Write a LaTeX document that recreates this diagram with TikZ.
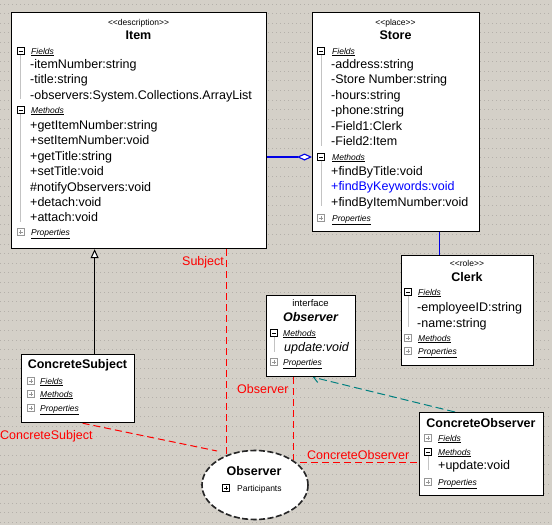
\documentclass[tikz,border=0pt]{standalone}
\usepackage{fontspec}
\setmainfont{Liberation Sans}
\usetikzlibrary{arrows.meta,shapes.geometric}
\definecolor{bgc}{RGB}{212,208,200}
\definecolor{dotc}{RGB}{180,176,170}
\definecolor{tealc}{RGB}{0,128,128}
\definecolor{treec}{RGB}{195,195,195}
\definecolor{icgray}{RGB}{150,150,150}
\definecolor{aggblue}{RGB}{0,0,230}
\pgfdeclarelayer{bg}
\pgfsetlayers{bg,main}
\begin{document}
\begin{tikzpicture}[x=1pt,y=-1pt,
  box/.style={draw=black, fill=white, line width=1.2pt, inner sep=0pt, anchor=north west},
  mem/.style={anchor=base west, inner sep=0pt, font=\fontsize{12.5}{14}\selectfont},
  hdr/.style={anchor=base west, inner sep=0pt, font=\fontsize{8.5}{10}\selectfont\itshape},
  ster/.style={anchor=base, inner sep=0pt, font=\fontsize{8.5}{10}\selectfont},
  ttl/.style={anchor=base, inner sep=0pt, font=\fontsize{12.5}{14}\selectfont\bfseries},
  redlbl/.style={anchor=base west, inner sep=0pt, text=red, font=\fontsize{12.5}{14}\selectfont},
  reddash/.style={draw=red, line width=1pt, dash pattern=on 7pt off 4pt},
  treeline/.style={draw=treec, line width=1pt},
  iconbase/.style={fill=white, minimum size=7pt, inner sep=0pt, line width=0.6pt},
  iconminus/.style={iconbase, draw=black, path picture={\draw[black, line width=0.7pt] ([xshift=1.5pt]path picture bounding box.west) -- ([xshift=-1.5pt]path picture bounding box.east);}},
  iconplus/.style={iconbase, draw=icgray, path picture={\draw[icgray, line width=0.6pt] ([xshift=1.5pt]path picture bounding box.west) -- ([xshift=-1.5pt]path picture bounding box.east) ([yshift=-1.5pt]path picture bounding box.north) -- ([yshift=1.5pt]path picture bounding box.south);}},
  iconplusk/.style={iconbase, draw=black, path picture={\draw[black, line width=0.7pt] ([xshift=1.5pt]path picture bounding box.west) -- ([xshift=-1.5pt]path picture bounding box.east) ([yshift=-1.5pt]path picture bounding box.north) -- ([yshift=1.5pt]path picture bounding box.south);}},
]
\useasboundingbox (0,0) rectangle (552,525);

% ---------- Item ----------
\node[box, minimum width=255pt, minimum height=236pt] (item) at (11,12) {};
\node[ster] (itemst) at (138.5,25) {<\kern0pt<description>\kern0pt>};
\node[ttl] (itemt) at (138.5,39) {Item};
\node[iconminus] (ific) at (20.5,51) {};
\node[hdr] (ifh) at (31,54) {\underline{Fields}};
\node[mem] (if1) at (30,68.5) {-itemNumber:string};
\node[mem] (if2) at (30,83.9) {-title:string};
\node[mem] (if3) at (30,99.3) {-observers:System.Collections.ArrayList};
\node[iconminus] (imic) at (20.5,110) {};
\node[hdr] (imh) at (31,113) {\underline{Methods}};
\node[mem] (im1) at (30,129.5) {+getItemNumber:string};
\node[mem] (im2) at (30,144.9) {+setItemNumber:void};
\node[mem] (im3) at (30,160.3) {+getTitle:string};
\node[mem] (im4) at (30,175.7) {+setTitle:void};
\node[mem] (im5) at (30,191.1) {\#notifyObservers:void};
\node[mem] (im6) at (30,206.5) {+detach:void};
\node[mem] (im7) at (30,221.9) {+attach:void};
\node[iconplus] (ipic) at (20.5,232) {};
\node[hdr] (iph) at (31,235) {\underline{Properties}};
\draw[treeline] (ific.south) -- (ific.south |- if3.base);
\draw[treeline] (imic.south) -- (imic.south |- im7.base);

% ---------- Store ----------
\node[box, minimum width=167pt, minimum height=219pt] (store) at (312,12) {};
\node[ster] (storest) at (395.5,25) {<\kern0pt<place>\kern0pt>};
\node[ttl] (storet) at (395.5,39) {Store};
\node[iconminus] (sfic) at (321,51) {};
\node[hdr] (sfh) at (332,54) {\underline{Fields}};
\node[mem] (sf1) at (331,68.5) {-address:string};
\node[mem] (sf2) at (331,83.9) {-Store Number:string};
\node[mem] (sf3) at (331,99.3) {-hours:string};
\node[mem] (sf4) at (331,114.7) {-phone:string};
\node[mem] (sf5) at (331,130.1) {-Field1:Clerk};
\node[mem] (sf6) at (331,145.5) {-Field2:Item};
\node[iconminus] (smic) at (321,157) {};
\node[hdr] (smh) at (332,160) {\underline{Methods}};
\node[mem] (sm1) at (331,175.5) {+findByTitle:void};
\node[mem, text=blue] (sm2) at (331,190.9) {+findByKeywords:void};
\node[mem] (sm3) at (331,206.3) {+findByItemNumber:void};
\node[iconplus] (spic) at (321,218) {};
\node[hdr] (sph) at (332,221) {\underline{Properties}};
\draw[treeline] (sfic.south) -- (sfic.south |- sf6.base);
\draw[treeline] (smic.south) -- (smic.south |- sm3.base);

% ---------- Clerk ----------
\node[box, minimum width=132pt, minimum height=110pt] (clerk) at (401,255) {};
\node[ster] (clerkst) at (467,266) {<\kern0pt<role>\kern0pt>};
\node[ttl] (clerkt) at (467,281.5) {Clerk};
\node[iconminus] (cfic) at (408,292) {};
\node[hdr] (cfh) at (418,295) {\underline{Fields}};
\node[mem] (cf1) at (417,311.5) {-employeeID:string};
\node[mem] (cf2) at (417,327) {-name:string};
\node[iconplus] (cmic) at (408,338) {};
\node[hdr] (cmh) at (418,341) {\underline{Methods}};
\node[iconplus] (cpic) at (408,351) {};
\node[hdr] (cph) at (418,354) {\underline{Properties}};
\draw[treeline] (cfic.south) -- (cfic.south |- cf2.base);

% ---------- interface Observer ----------
\node[box, minimum width=89pt, minimum height=81pt] (iface) at (266,295) {};
\node[ster, font=\fontsize{9.5}{11}\selectfont] (ifacest) at (310.5,306) {interface};
\node[ttl, font=\fontsize{12.5}{14}\selectfont\bfseries\itshape] (ifacet) at (310.5,321.5) {Observer};
\node[iconminus] (ofmic) at (274,333) {};
\node[hdr] (ofmh) at (283,336) {\underline{Methods}};
\node[mem, font=\fontsize{12.5}{14}\selectfont\itshape] (ofm1) at (284,351.5) {update:void};
\node[iconplus] (ofpic) at (274,362) {};
\node[hdr] (ofph) at (283,365) {\underline{Properties}};
\draw[treeline] (ofmic.south) -- (ofmic.south |- ofm1.base);

% ---------- ConcreteSubject ----------
\node[box, minimum width=113pt, minimum height=68pt] (csub) at (21,354) {};
\node[ttl] (csubt) at (77.5,368.5) {ConcreteSubject};
\node[iconplus] (csfic) at (31,381) {};
\node[hdr] (csfh) at (40,384) {\underline{Fields}};
\node[iconplus] (csmic) at (31,394) {};
\node[hdr] (csmh) at (40,397) {\underline{Methods}};
\node[iconplus] (cspic) at (31,408) {};
\node[hdr] (csph) at (40,411) {\underline{Properties}};

% ---------- ConcreteObserver ----------
\node[box, minimum width=124pt, minimum height=83pt] (cobs) at (419,412) {};
\node[ttl] (cobst) at (481,427.5) {ConcreteObserver};
\node[iconplus] (cofic) at (428,438) {};
\node[hdr] (cofh) at (438,441) {\underline{Fields}};
\node[iconminus] (comic) at (428,452) {};
\node[hdr] (comh) at (438,455) {\underline{Methods}};
\node[mem] (com1) at (438,469.5) {+update:void};
\node[iconplus] (copic) at (428,482) {};
\node[hdr] (coph) at (438,485) {\underline{Properties}};
\draw[treeline] (comic.south) -- (comic.south |- com1.base);

% ---------- Observer pattern ellipse ----------
\node[ellipse, fill=white, draw=black!85, line width=1.6pt, dash pattern=on 6pt off 2.5pt,
      preaction={draw=black!35, line width=1.6pt},
      minimum width=106pt, minimum height=69pt, inner sep=0pt] (obsell) at (255,485) {};
\node[ttl] (obsellt) at (254,475.5) {Observer};
\node[iconplusk] (obsic) at (226,488) {};
\node[anchor=base west, inner sep=0pt, font=\fontsize{8.5}{10}\selectfont] (obspart) at (237,491) {Participants};

% ---------- red labels ----------
\node[redlbl] (lsubj) at (182,265.5) {Subject};
\node[redlbl] (lobs) at (237,393.5) {Observer};
\node[redlbl] (lcsub) at (0,439.5) {ConcreteSubject};
\node[redlbl] (lcobs) at (307,459.5) {ConcreteObserver};

% ---------- background and connectors ----------
\coordinate (aggy) at (0,157);
\coordinate (scx) at (439,0);
\coordinate (csend) at (217,451);
\coordinate (coy) at (300,462);
\begin{pgfonlayer}{bg}
  \fill[bgc] (0,0) rectangle (552,525);
  \foreach \r in {0,...,54} {
    \draw[dotc, line width=1pt, dash pattern=on 1.2pt off 2.8pt] (0,{\r*9.6+4}) -- (552,{\r*9.6+4});
  }
  % generalization ConcreteSubject -> Item
  \draw[black, line width=1pt, -{Triangle[length=9pt,width=8pt,fill=white]}]
    ([xshift=16.5pt]csub.north) -- ([xshift=16.5pt]csub.north |- item.south);
  % aggregation Item -- Store
  \draw[draw=aggblue, line width=1.1pt, {Diamond[length=15pt,width=7pt,fill=white]}-]
    (store.west |- aggy) -- (item.east |- aggy);
  % Store -- Clerk
  \draw[draw=aggblue, line width=1pt] (store.south -| scx) -- (clerk.north -| scx);
  % realization ConcreteObserver -> interface Observer
  \draw[tealc, line width=1pt, dash pattern=on 8pt off 4pt, -{Straight Barb[length=5pt,width=8pt]}]
    ([xshift=36pt]cobs.north west) -- ([xshift=47pt]iface.south west);
  % pattern participant lines
  \draw[reddash] (item.south -| obsell.134) -- (obsell.134);
  \draw[reddash] (iface.south -| obsell.33) -- (obsell.33);
  \draw[reddash] ([xshift=4.5pt]csub.south) -- (csend);
  \draw[reddash] (coy) -- (coy -| cobs.west);
\end{pgfonlayer}
\end{tikzpicture}
\end{document}
